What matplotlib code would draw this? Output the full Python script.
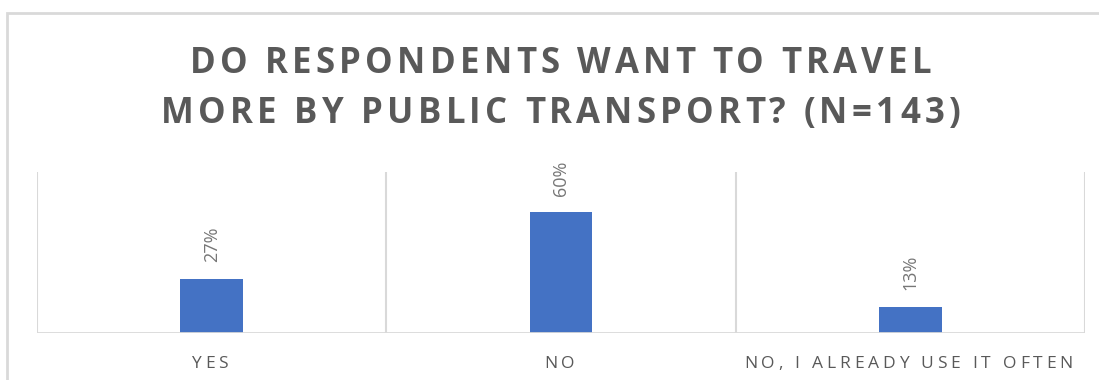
import matplotlib.pyplot as plt
from matplotlib.patches import Rectangle

categories = ["YES", "NO", "NO, I ALREADY USE IT OFTEN"]
shares = [0.27, 0.60, 0.13]
value_labels = ["27%", "60%", "13%"]

title_lines = ["DO RESPONDENTS WANT TO TRAVEL", "MORE BY PUBLIC TRANSPORT? (N=143)"]

bar_color = "#4472C4"
grid_color = "#D9D9D9"
text_color = "#595959"

W, H = 1099, 380

plt.rcParams["font.family"] = ["Open Sans", "DejaVu Sans"]

fig = plt.figure(figsize=(W / 100, H / 100), dpi=100)
renderer = fig.canvas.get_renderer()


def text_width(s, **kw):
    t = fig.text(0, 0, s, **kw)
    w = t.get_window_extent(renderer).width
    t.remove()
    return w


def spaced_text(cx, baseline, s, spacing, **kw):
    """Draw s centred on cx (pixels) with extra letter spacing."""
    base = text_width("xx", **kw)
    adv = [text_width("x" + c + "x", **kw) - base for c in s]
    total = sum(adv) + spacing * (len(s) - 1)
    x = cx - total / 2
    for c, a in zip(s, adv):
        fig.text(x / W, 1 - baseline / H, c, ha="left", va="baseline", **kw)
        x += a + spacing


# outer chart frame
fig.patches.append(Rectangle((7 / W, -0.05), 1.1, 1 - 13 / H + 0.05,
                             transform=fig.transFigure, fill=False,
                             edgecolor=grid_color, linewidth=2, zorder=0))

ax = fig.add_axes([37 / W, 1 - 333 / H, (1085 - 37) / W, (333 - 172) / H])

x = range(len(categories))
bars = ax.bar(x, shares, width=0.18, color=bar_color, zorder=2)

ax.set_xlim(-0.5, len(categories) - 0.5)
ax.set_ylim(0, 0.8)

# category dividers
for b in [i - 0.5 for i in range(len(categories) + 1)]:
    ax.axvline(b, color=grid_color, linewidth=1.5, zorder=1)

for spine in ax.spines.values():
    spine.set_visible(False)
ax.axhline(0, color=grid_color, linewidth=2, zorder=3)
ax.set_xticks([])
ax.set_yticks([])

for rect, lab in zip(bars, value_labels):
    ax.annotate(lab, (rect.get_x() + rect.get_width() / 2, rect.get_height()),
                xytext=(0, 12), textcoords="offset points", rotation=90,
                ha="center", va="bottom", fontsize=13, color="#767676")

# category labels with wide tracking
for i, cat in enumerate(categories):
    cx = ax.transData.transform((i, 0))[0] - 2
    spaced_text(cx, 368, cat, 3.8, fontsize=12.5, color=text_color)

for line, base in zip(title_lines, [73, 123]):
    spaced_text(560.5, base, line, 4.3, fontsize=25, fontweight="bold",
                color=text_color)

fig.savefig("out.png", dpi=100)
